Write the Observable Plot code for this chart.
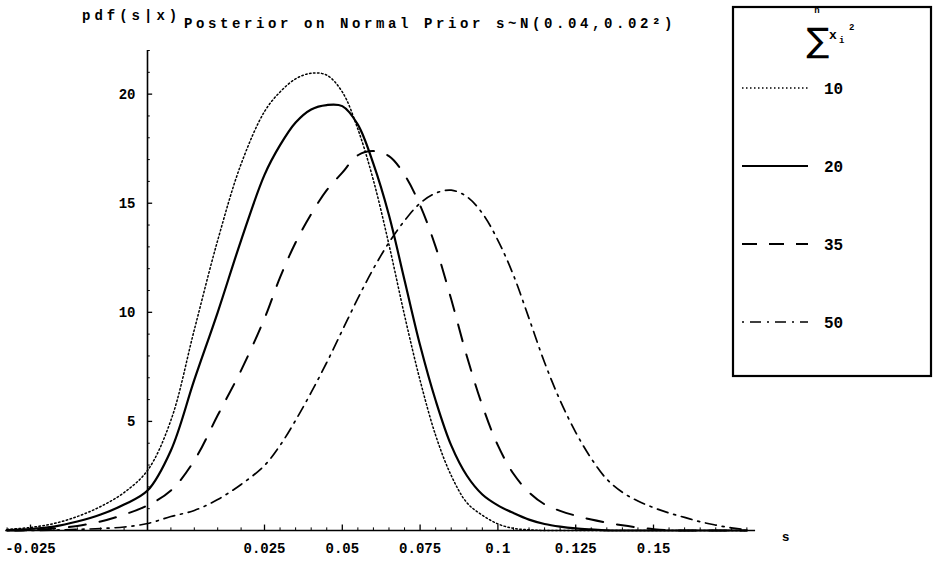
<!DOCTYPE html>
<html><head><meta charset="utf-8">
<script src="https://cdn.jsdelivr.net/npm/d3@7"></script>
<script src="https://cdn.jsdelivr.net/npm/@observablehq/plot@0.6"></script>
<style>
body{margin:0;background:#fff;}
#wrap{position:relative;width:935px;height:566px;background:#fff;}
#wrap svg.overlay{position:absolute;left:0;top:0;pointer-events:none;}
</style></head><body><div id="wrap"></div>
<script>
// ---- data ----
const sValues = [-0.03,-0.025,-0.02,-0.015,-0.01,-0.005,0,0.005,0.01,0.015,0.02,0.025,0.03,0.035,0.04,0.045,0.05,0.055,0.06,0.065,0.07,0.075,0.08,0.085,0.09,0.095,0.1,0.105,0.11,0.115,0.12,0.125,0.13,0.135,0.14,0.145,0.15,0.155,0.16,0.165,0.17,0.175,0.18];
const pdf10 = [0.05,0.14,0.32,0.64,1.10,1.74,2.75,5.05,9.2,13.3,16.8,19.2,20.1,20.7,20.96,20.87,20.1,18.4,16.05,13.1,9.86,6.88,4.36,2.52,1.28,0.7,0.3,0.1,0.03,0,0,0,0,0,0,0,0,0,0,0,0,0,0];
const pdf20 = [0.02,0.07,0.18,0.41,0.73,1.19,1.83,3.67,6.9,10.0,13.3,16.3,17.66,18.7,19.3,19.5,19.45,18.6,16.8,14.45,11.47,8.49,5.96,3.90,2.52,1.65,1.15,0.8,0.5,0.3,0.18,0.1,0.05,0.01,0,0,0,0,0,0,0,0,0];
const pdf35 = [0,0.02,0.09,0.21,0.41,0.73,1.15,1.83,3.21,5.28,7.34,9.72,11.6,13.2,14.5,15.6,16.4,17.2,17.39,17.16,16.3,14.9,13.0,10.6,8.0,5.73,3.9,2.6,1.75,1.2,0.9,0.68,0.5,0.36,0.24,0.14,0.06,0.01,0,0,0,0,0];
const pdf50 = [0,0,0.02,0.05,0.09,0.16,0.32,0.64,0.92,1.42,2.11,2.98,3.9,5.05,6.33,7.7,9.17,10.64,12.0,13.2,14.2,15.0,15.46,15.6,15.3,14.54,13.3,11.7,9.72,7.7,5.96,4.5,3.3,2.35,1.75,1.35,1.05,0.8,0.6,0.4,0.25,0.12,0.03];
const seriesNames = ["10","20","35","50"];
const xTickValues = [-0.025,0.025,0.05,0.075,0.1,0.125,0.15];
const xTickLabels = ["-0.025","0.025","0.05","0.075","0.1","0.125","0.15"];
const yTickValues = [5,10,15,20];
const yTickLabels = ["5","10","15","20"];
const yLabelText = "pdf(s|x)";
const titleText = "Posterior on Normal Prior s~N(0.04,0.02²)";
const xLabelText = "s";

// ---- build ----
const series = [pdf10, pdf20, pdf35, pdf50];
const rows = seriesNames.flatMap((name, k) => sValues.map((s, i) => ({s, pdf: series[k][i], name})));
const styles = {
  "10": {strokeDasharray: "1.5,2.5", strokeWidth: 1.5},
  "20": {strokeDasharray: null, strokeWidth: 2.2},
  "35": {strokeDasharray: "17,14", strokeWidth: 2},
  "50": {strokeDasharray: "2,6,11,6", strokeWidth: 1.7}
};
const mono = "'Liberation Mono','DejaVu Sans Mono',monospace";
const sMin = -0.0303, sMax = 0.1828, yMax = 22;
const xMinor = d3.range(-0.03, 0.1801, 0.005).filter(v => !xTickValues.some(t => Math.abs(t - v) < 1e-9));
const yMinor = d3.range(1, yMax + 0.5, 1).filter(v => v % 5 !== 0);

const lineMarks = seriesNames.map(name => Plot.line(rows.filter(r => r.name === name), {
  x: "s", y: "pdf", curve: "catmull-rom", stroke: "#000",
  strokeDasharray: styles[name].strokeDasharray || undefined,
  strokeWidth: styles[name].strokeWidth
}));

const chart = Plot.plot({
  width: 935, height: 566, margin: 0,
  style: {fontFamily: mono, fontWeight: "bold", background: "#fff", overflow: "visible"},
  x: {type: "linear", domain: [0, 0.025, 0.15], range: [147, 264, 653], axis: null},
  y: {domain: [0, yMax], range: [530, 50], axis: null},
  marks: [
    Plot.ruleY([0], {x1: sMin, x2: sMax, stroke: "#000", strokeWidth: 1.6}),
    Plot.ruleX([0], {y1: 0, y2: yMax, stroke: "#000", strokeWidth: 1.6}),
    Plot.ruleX(xMinor, {x: d => d, y1: 0, y2: 0.12, stroke: "#000"}),
    Plot.ruleX(xTickValues, {x: d => d, y1: 0, y2: 0.25, stroke: "#000", strokeWidth: 1.3}),
    Plot.ruleY(yMinor, {y: d => d, x1: 0, x2: 0.0006, stroke: "#000"}),
    Plot.ruleY(yTickValues, {y: d => d, x1: 0, x2: 0.0011, stroke: "#000", strokeWidth: 1.3}),
    Plot.text(xTickValues, {x: d => d, y: 0, text: (d, i) => xTickLabels[i], dy: 18, fontSize: 14, fill: "#000"}),
    Plot.text(yTickValues, {x: 0, y: d => d, text: (d, i) => yTickLabels[i], dx: -12, textAnchor: "end", fontSize: 14, fill: "#000"}),
    Plot.text([xLabelText], {x: sMax, y: 0, text: d => d, dx: 30, dy: 6, fontSize: 13, fill: "#000"}),
    ...lineMarks
  ]
});
const wrap = document.getElementById("wrap");
wrap.appendChild(chart);

// ---- overlay: title and legend ----
const ov = d3.select(wrap).append("svg").attr("class", "overlay")
  .attr("width", 935).attr("height", 566)
  .style("font-family", mono).style("font-weight", "bold");
ov.append("text").attr("x", 82).attr("y", 20).attr("font-size", 14)
  .attr("letter-spacing", "4px").text(yLabelText);
ov.append("text").attr("x", 184).attr("y", 28).attr("font-size", 14)
  .attr("letter-spacing", "3.6px").text(titleText);

const lg = ov.append("g");
lg.append("rect").attr("x", 733).attr("y", 7).attr("width", 198).attr("height", 369)
  .attr("fill", "#fff").attr("stroke", "#000").attr("stroke-width", 2.2);
lg.append("text").attr("x", 818).attr("y", 52).attr("font-size", 34)
  .attr("text-anchor", "middle").style("font-family", "'DejaVu Sans',sans-serif").style("font-weight", "normal").text("∑");
lg.append("text").attr("x", 817).attr("y", 13).attr("font-size", 9).attr("text-anchor", "middle").text("n");
lg.append("text").attr("x", 829).attr("y", 39).attr("font-size", 13).text("x");
lg.append("text").attr("x", 839).attr("y", 43).attr("font-size", 9).text("i");
lg.append("text").attr("x", 849).attr("y", 30).attr("font-size", 9).text("2");
const ly = d3.scalePoint().domain(seriesNames).range([88, 322]);
seriesNames.forEach(name => {
  const g = lg.append("g");
  g.append("line").attr("x1", 742).attr("x2", 808).attr("y1", ly(name)).attr("y2", ly(name))
    .attr("stroke", "#000").attr("stroke-width", styles[name].strokeWidth)
    .attr("stroke-dasharray", name === "35" ? "15,12" : styles[name].strokeDasharray);
  g.append("text").attr("x", 824).attr("y", ly(name) + 6).attr("font-size", 16).text(name);
});
</script></body></html>
